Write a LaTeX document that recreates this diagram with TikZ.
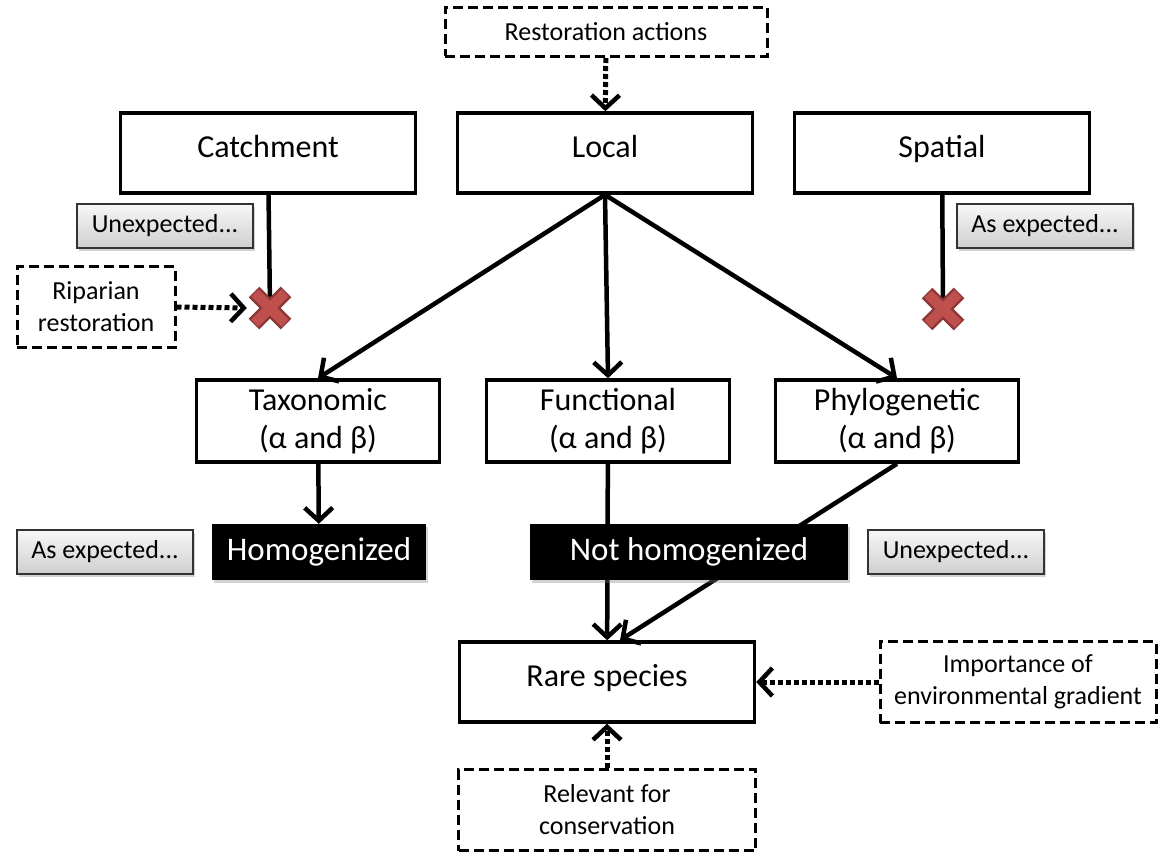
\documentclass[tikz,border=0pt]{standalone}
\usepackage{fontspec}
\setmainfont{Carlito}
\usetikzlibrary{arrows.meta,shadows,calc}

\definecolor{crossred}{RGB}{192,80,77}
\definecolor{crossdark}{RGB}{140,56,54}

\tikzset{
  mainbox/.style={draw,line width=3.5pt,minimum width=295pt,minimum height=80pt,inner sep=0pt,align=center,font=\fontsize{32}{38}\selectfont},
  scalebox/.style={draw,line width=3.5pt,minimum width=295pt,minimum height=80pt,inner sep=0pt,font=\fontsize{32}{38}\selectfont,text height=0.84em,text depth=0pt},
  levelbox/.style={mainbox,minimum width=243pt,minimum height=82pt},
  resultbox/.style={fill=black,text=white,minimum height=56pt,inner sep=0pt,font=\fontsize{33}{38}\selectfont,drop shadow={opacity=0.35,shadow xshift=2pt,shadow yshift=-3pt}},
  notebox/.style={draw=black!80,line width=1.5pt,top color=gray!6,bottom color=gray!38,minimum width=176pt,minimum height=44pt,inner sep=0pt,font=\fontsize{26}{32}\selectfont,drop shadow={opacity=0.35,shadow xshift=2pt,shadow yshift=-3pt}},
  actionbox/.style={draw,line width=3pt,dash pattern=on 10pt off 5pt,minimum height=81pt,inner sep=0pt,align=center,font=\fontsize{26}{32}\selectfont},
  crossmark/.style={minimum size=46pt,inner sep=0pt},
  link/.style={line width=4.5pt,-{Straight Barb[length=13pt,width=28pt,line width=4.5pt]}},
  hint/.style={line width=5pt,dash pattern=on 5pt off 3pt,-{Straight Barb[length=13pt,width=28pt,line width=4.5pt]}},
}

% red cross on a crossmark node
\newcommand{\redcross}[1]{
  \draw[crossdark,line width=15pt] ($(#1)+(-16,-16)$) -- ($(#1)+(16,16)$) ($(#1)+(-16,16)$) -- ($(#1)+(16,-16)$);
  \draw[crossred,line width=10pt] ($(#1)+(-15,-15)$) -- ($(#1)+(15,15)$) ($(#1)+(-15,15)$) -- ($(#1)+(15,-15)$);
}

\begin{document}
\begin{tikzpicture}[x=1pt,y=-1pt]
\useasboundingbox (0,0) rectangle (1158,851);

% top row
\node[actionbox,minimum width=322pt,minimum height=49pt] (rest) at (606,32) {Restoration actions};
\node[scalebox] (catch) at (268,153) {Catchment};
\node[scalebox] (local) at (605,153) {Local};
\node[scalebox] (spat) at (942,153) {Spatial};

\node[notebox] (unexpa) at (165,226) {Unexpected...};
\node[notebox] (asexpa) at (1045,226) {As expected...};
\node[actionbox,minimum width=158pt] (rip) at (96,307) {Riparian\\restoration};
\node[crossmark] (xl) at (270,308) {};
\node[crossmark] (xr) at (943,309) {};

% diversity facets
\node[levelbox] (tax) at (318,421) {Taxonomic\\(α and β)};
\node[levelbox] (fun) at (608,421) {Functional\\(α and β)};
\node[levelbox] (phy) at (897,421) {Phylogenetic\\(α and β)};

\node[notebox] (asexpb) at (105,552) {As expected...};
\node[resultbox,minimum width=214pt] (hom) at (319,552) {Homogenized};
\node[notebox] (unexpb) at (956,552) {Unexpected...};

\node[scalebox] (rare) at (607,682) {Rare species};
\node[actionbox,minimum width=276pt] (imp) at (1018,682) {Importance of\\environmental gradient};
\node[actionbox,minimum width=297pt] (rel) at (607,810) {Relevant for\\conservation};

% connectors
\draw[hint] (rest) -- (local);
\draw[line width=4.5pt] (catch) -- (xl.center);
\draw[line width=4.5pt] (spat) -- (xr.center);
\draw[hint] (rip.east) -- (xl.west);
\draw[link] (local.south) -- (tax.north);
\draw[link] (local.south) -- (fun.north);
\draw[link] (local.south) -- (phy.north);
\draw[link] (tax) -- (hom);
\draw[link] (fun) -- (rare);
\draw[link] (phy.south) -- ($(rare.north)+(13,0)$);
\draw[hint] (imp) -- (rare);
\draw[hint] (rel) -- (rare);

\node[resultbox,minimum width=318pt] (nothom) at (689,552) {Not homogenized};
\redcross{xl}
\redcross{xr}
\end{tikzpicture}
\end{document}
